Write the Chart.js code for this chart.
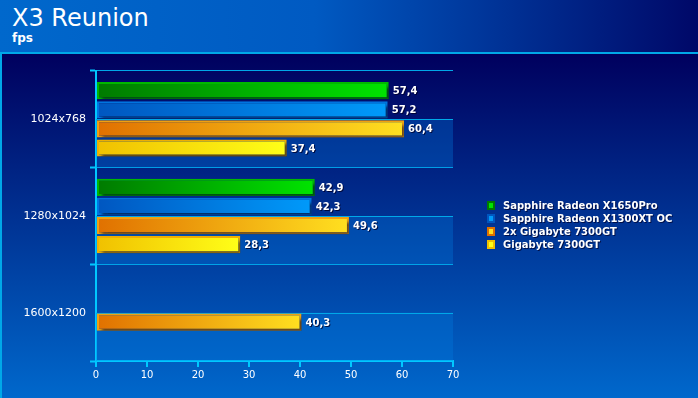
<!DOCTYPE html>
<html lang="en">
<head>
<meta charset="UTF-8">
<title>X3 Reunion</title>
<script src="https://cdn.jsdelivr.net/npm/chart.js"></script>
<style>
    html, body {
        margin: 0;
        padding: 0;
        width: 698px;
        height: 398px;
        overflow: hidden;
        font-family: "DejaVu Sans", Verdana, sans-serif;
    }
    .header {
        height: 52px;
        background: linear-gradient(to right, #0068cc 0%, #005ac2 45%, #000868 100%);
        color: #fff;
        position: relative;
    }
    .header h1 {
        position: absolute;
        left: 12px;
        top: 4px;
        margin: 0;
        font-size: 24px;
        font-weight: normal;
    }
    .header h3 {
        position: absolute;
        left: 12px;
        top: 31px;
        margin: 0;
        font-size: 12px;
        font-weight: bold;
    }
    .sep {
        height: 2px;
        background: #00a8e8;
    }
    .body {
        height: 344px;
        background: linear-gradient(to bottom, #00005e 0%, #0068cc 100%);
        border-left: 2px solid #00a8e8;
        box-sizing: border-box;
        position: relative;
    }
    .container {
        position: absolute;
        left: -2px;
        top: 0;
        width: 698px;
        height: 344px;
    }
</style>
</head>
<body>
<div class="header">
    <h1>X3 Reunion</h1>
    <h3>fps</h3>
</div>
<div class="sep"></div>
<div class="body">
    <div class="container"><canvas id="chart"></canvas></div>
</div>

<script>
    const categories = ['1024x768', '1280x1024', '1600x1200'];
    const seriesNames = [
        'Sapphire Radeon X1650Pro',
        'Sapphire Radeon X1300XT OC',
        '2x Gigabyte 7300GT',
        'Gigabyte 7300GT'
    ];
    const x1650Pro = [57.4, 42.9, null];
    const x1300XT = [57.2, 42.3, null];
    const sli7300 = [60.4, 49.6, 40.3];
    const single7300 = [37.4, 28.3, null];
    const xTicks = [0, 10, 20, 30, 40, 50, 60, 70];

    // dark end, light end, border
    const barColors = [
        ['#007a00', '#00e400', '#00b800'],
        ['#0056c0', '#009afa', '#0074e0'],
        ['#e07000', '#ffe020', '#f0a010'],
        ['#f0c000', '#ffff18', '#f0b000']
    ];

    function gradientFor(idx) {
        return function (context) {
            const chart = context.chart;
            const area = chart.chartArea;
            const c = barColors[idx];
            if (!area || !chart.scales.x || context.type !== 'data') return c[0];
            const v = context.raw;
            if (v == null) return c[0];
            const x0 = chart.scales.x.getPixelForValue(0);
            const x1 = chart.scales.x.getPixelForValue(v);
            const g = chart.ctx.createLinearGradient(x0, 0, x1, 0);
            g.addColorStop(0, c[0]);
            g.addColorStop(1, c[1]);
            return g;
        };
    }

    const seriesData = [x1650Pro, x1300XT, sli7300, single7300];
    const datasets = seriesData.map((d, i) => ({
        label: seriesNames[i],
        data: d,
        backgroundColor: gradientFor(i),
        borderColor: barColors[i][2],
        borderWidth: 2,
        borderSkipped: false,
        categoryPercentage: 0.79,
        barPercentage: 0.9
    }));

    // light bands and middle lines in the plot area
    const bandsPlugin = {
        id: 'bands',
        beforeDatasetsDraw(chart) {
            const ctx = chart.ctx;
            const y = chart.scales.y;
            const area = chart.chartArea;
            const step = (area.bottom - area.top) / categories.length;
            ctx.save();
            categories.forEach((c, i) => {
                const mid = y.getPixelForValue(i);
                ctx.fillStyle = 'rgba(0, 125, 225, 0.32)';
                ctx.fillRect(area.left, mid, area.right - area.left, step / 2);
                ctx.strokeStyle = '#00a8e8';
                ctx.lineWidth = 1;
                ctx.beginPath();
                ctx.moveTo(area.left, Math.round(mid) + 0.5);
                ctx.lineTo(area.right, Math.round(mid) + 0.5);
                ctx.stroke();
            });
            ctx.restore();
        }
    };

    // drop shadow under bars
    const shadowPlugin = {
        id: 'shadow',
        beforeDatasetDraw(chart) {
            const ctx = chart.ctx;
            ctx.save();
            ctx.shadowColor = 'rgba(0, 0, 30, 0.6)';
            ctx.shadowBlur = 3;
            ctx.shadowOffsetX = 3;
            ctx.shadowOffsetY = 3;
        },
        afterDatasetDraw(chart) {
            chart.ctx.restore();
        }
    };

    // value labels at bar ends
    const valuePlugin = {
        id: 'values',
        afterDatasetsDraw(chart) {
            const ctx = chart.ctx;
            ctx.save();
            ctx.font = 'bold 10px "DejaVu Sans"';
            ctx.fillStyle = '#ffffff';
            ctx.textBaseline = 'middle';
            ctx.shadowColor = 'rgba(0, 0, 40, 0.8)';
            ctx.shadowOffsetX = 1;
            ctx.shadowOffsetY = 1;
            chart.data.datasets.forEach((ds, i) => {
                chart.getDatasetMeta(i).data.forEach((bar, j) => {
                    const v = ds.data[j];
                    if (v == null) return;
                    ctx.fillText(v.toFixed(1).replace('.', ','), bar.x + 4, bar.y + 1);
                });
            });
            ctx.restore();
        }
    };

    // legend to the right of the plot
    const legendPlugin = {
        id: 'sideLegend',
        afterDraw(chart) {
            const ctx = chart.ctx;
            ctx.save();
            ctx.font = 'bold 10px "DejaVu Sans"';
            ctx.textBaseline = 'middle';
            chart.data.datasets.forEach((ds, i) => {
                const y = 151 + i * 13;
                ctx.fillStyle = barColors[i][0];
                ctx.fillRect(487, y - 4, 8, 9);
                ctx.fillStyle = barColors[i][1];
                ctx.fillRect(489, y - 2, 4, 5);
                ctx.fillStyle = '#ffffff';
                ctx.shadowColor = 'rgba(0, 0, 40, 0.7)';
                ctx.shadowOffsetX = 1;
                ctx.shadowOffsetY = 1;
                ctx.fillText(ds.label, 503, y + 1);
                ctx.shadowColor = 'transparent';
            });
            ctx.restore();
        }
    };

    new Chart(document.getElementById('chart'), {
        type: 'bar',
        data: {
            labels: categories,
            datasets: datasets
        },
        plugins: [bandsPlugin, shadowPlugin, valuePlugin, legendPlugin],
        options: {
            indexAxis: 'y',
            responsive: true,
            maintainAspectRatio: false,
            animation: false,
            layout: {
                padding: { top: 17, right: 245, left: 0, bottom: 0 }
            },
            plugins: {
                legend: { display: false },
                tooltip: { enabled: false }
            },
            scales: {
                x: {
                    min: 0,
                    max: 70,
                    afterBuildTicks(axis) {
                        axis.ticks = xTicks.map(v => ({ value: v }));
                    },
                    afterFit(axis) {
                        axis.height = 37;
                    },
                    border: { color: '#00c8ff', width: 2 },
                    grid: {
                        drawOnChartArea: false,
                        color: '#00c8ff',
                        lineWidth: 2,
                        tickLength: 6
                    },
                    ticks: {
                        color: '#ffffff',
                        font: { family: 'DejaVu Sans', size: 10 },
                        padding: 2,
                        maxRotation: 0
                    }
                },
                y: {
                    afterFit(axis) {
                        axis.width = 96;
                    },
                    border: { color: '#00c8ff', width: 2 },
                    grid: {
                        offset: true,
                        color: '#00a8e8',
                        lineWidth: 1,
                        tickLength: 6,
                        tickColor: '#00c8ff',
                        tickWidth: 2
                    },
                    ticks: {
                        color: '#ffffff',
                        font: { family: 'DejaVu Sans', size: 11 },
                        padding: 4
                    }
                }
            }
        }
    });
</script>
</body>
</html>
